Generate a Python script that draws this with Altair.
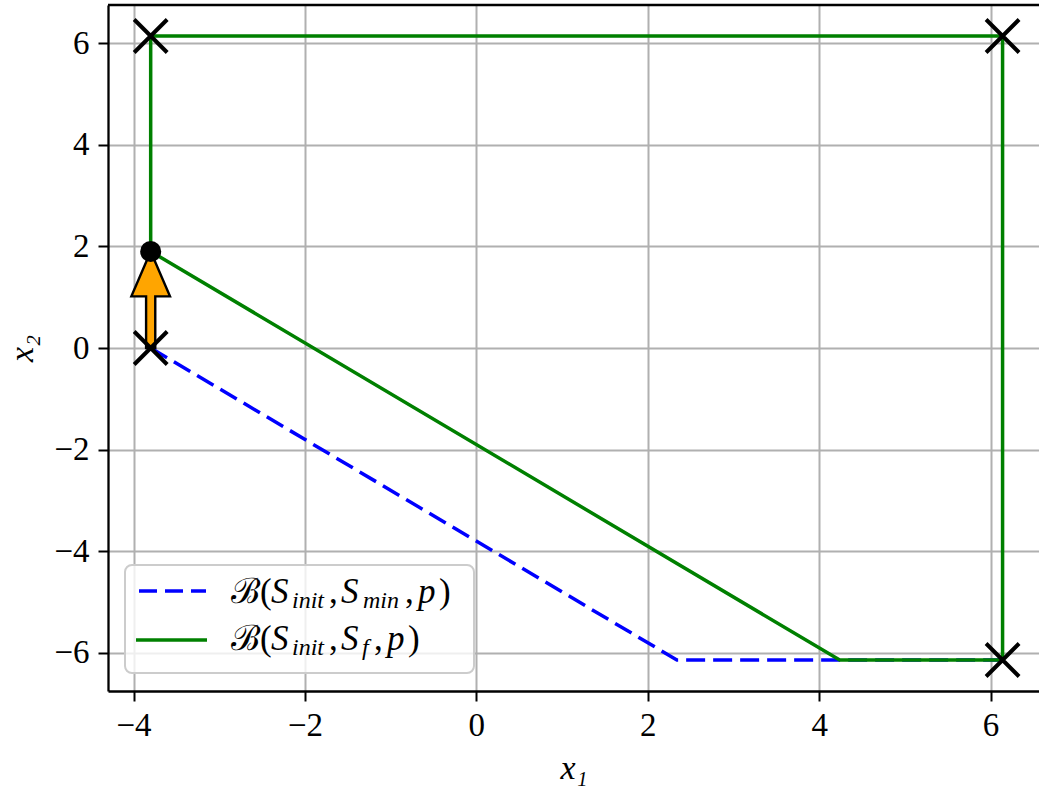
import altair as alt
import pandas as pd

# ---------------- data ----------------
blue_x = [-3.8, 2.34, 6.14]
blue_y = [0.0, -6.14, -6.14]
green_x = [-3.8, 4.24, 6.14, 6.14, -3.8, -3.8]
green_y = [1.9, -6.14, -6.14, 6.14, 6.14, 1.9]
cross_x = [-3.8, 6.14, 6.14, -3.8]
cross_y = [6.14, 6.14, -6.14, 0.0]
dot_x = [-3.8]
dot_y = [1.9]
arrow_x = [-3.8]
arrow_y0 = [0.0]
arrow_y1 = [1.9]
x_ticks = [-4, -2, 0, 2, 4, 6]
y_ticks = [-6, -4, -2, 0, 2, 4, 6]
x_domain = [-4.298, 6.565]
y_domain = [-6.75, 6.75]

# ---------------- layout ----------------
W, H = 931, 686
FONT = "Liberation Serif"

xscale = alt.Scale(domain=x_domain, nice=False, zero=False)
yscale = alt.Scale(domain=y_domain, nice=False, zero=False)

axis_common = dict(
    grid=True, gridColor="#b0b0b0", gridWidth=2,
    domainColor="black", domainWidth=2.3,
    tickColor="black", tickWidth=2, tickSize=10,
    labelFont=FONT, labelFontSize=33, labelColor="black",
    labelFlush=False, labelOverlap=False, format="d",
    titleFont=FONT, titleFontSize=34, titleFontStyle="italic",
    titleFontWeight="normal", titleColor="black",
    titleAlign="center", titleBaseline="middle",
)
xaxis = alt.Axis(values=x_ticks, title="x₁", labelPadding=8,
                 titleX=W / 2, titleY=77, **axis_common)
yaxis = alt.Axis(values=y_ticks, title="x₂", labelPadding=9,
                 titleX=-86, titleY=H / 2, titleAngle=-90, **axis_common)

X = alt.X("x:Q", scale=xscale, axis=xaxis)
Y = alt.Y("y:Q", scale=yscale, axis=yaxis)

blue_df = pd.DataFrame({"x": blue_x, "y": blue_y, "i": range(len(blue_x))})
green_df = pd.DataFrame({"x": green_x, "y": green_y, "i": range(len(green_x))})
cross_df = pd.DataFrame({"x": cross_x, "y": cross_y})
dot_df = pd.DataFrame({"x": dot_x, "y": dot_y})
arrow_df = pd.DataFrame({"x": arrow_x,
                         "y": [(a + b) / 2 for a, b in zip(arrow_y0, arrow_y1)]})

LW = 3.5
blue = alt.Chart(blue_df).mark_line(
    color="#0000ff", strokeWidth=LW, strokeDash=[19, 8]
).encode(x=X, y=Y, order=alt.Order("i:Q"))

green = alt.Chart(green_df).mark_line(
    color="#008000", strokeWidth=LW
).encode(x=X, y=Y, order=alt.Order("i:Q"))

# arrow drawn as a symbol whose length follows the y scale
px_per_unit = H / (y_domain[1] - y_domain[0])
arrow_len_px = (arrow_y1[0] - arrow_y0[0]) * px_per_unit
arrow_path = ("M0,-1L0.40,-0.07L0.095,-0.07L0.095,1L-0.095,1"
              "L-0.095,-0.07L-0.40,-0.07Z")
arrow = alt.Chart(arrow_df).mark_point(
    shape=arrow_path, filled=True, fill="#FFA500", stroke="black",
    strokeWidth=2.4, size=arrow_len_px ** 2, opacity=1, strokeJoin="miter"
).encode(x=X, y=Y)

crosses = alt.Chart(cross_df).mark_point(
    shape="M-1,-1L1,1M-1,1L1,-1", filled=False, stroke="black",
    strokeWidth=4, size=33 ** 2, opacity=1
).encode(x=X, y=Y)

dot = alt.Chart(dot_df).mark_point(
    shape="circle", filled=True, color="black", size=21 ** 2, opacity=1
).encode(x=X, y=Y)

# top frame line
frame_top = alt.Chart(dot_df).mark_rule(color="black", strokeWidth=2.3).encode(
    x=alt.value(0), x2=alt.value(W), y=alt.value(0)
)

# ---------------- legend ----------------
leg_box = alt.Chart(dot_df).mark_rect(
    fill="white", fillOpacity=0.8, stroke="#cccccc", strokeWidth=2,
    cornerRadius=7
).encode(x=alt.value(17), x2=alt.value(366), y=alt.value(560), y2=alt.value(668))

leg_blue = alt.Chart(dot_df).mark_rule(
    color="#0000ff", strokeWidth=LW, strokeDash=[18, 8]
).encode(x=alt.value(31), x2=alt.value(98), y=alt.value(586))
leg_green = alt.Chart(dot_df).mark_rule(
    color="#008000", strokeWidth=LW
).encode(x=alt.value(28), x2=alt.value(99), y=alt.value(635))

MAIN, SUB = 35, 24
B1, S1 = 598, 603   # baselines, line 1
B2, S2 = 645, 650   # baselines, line 2
OX = 108            # page offset of plot area
# (text, page x, baseline y, size, italic)
legend_pieces = [
    ("ℬ", 231, B1, MAIN, False), ("(", 260, B1, MAIN, False),
    ("S", 271, B1, MAIN, True), ("init", 292, S1, SUB, True),
    (",", 329, B1, MAIN, False), ("S", 341, B1, MAIN, True),
    ("min", 363, S1, SUB, True), (",", 405, B1, MAIN, False),
    ("p", 418, B1, MAIN, True), (")", 439, B1, MAIN, False),
    ("ℬ", 231, B2, MAIN, False), ("(", 260, B2, MAIN, False),
    ("S", 271, B2, MAIN, True), ("init", 292, S2, SUB, True),
    (",", 329, B2, MAIN, False), ("S", 341, B2, MAIN, True),
    ("f", 362, S2, SUB, True), (",", 374, B2, MAIN, False),
    ("p", 387, B2, MAIN, True), (")", 408, B2, MAIN, False),
]
leg_texts = []
for t, px, py, fs, it in legend_pieces:
    leg_texts.append(
        alt.Chart(dot_df).mark_text(
            font=FONT, fontSize=fs, fontStyle="italic" if it else "normal",
            align="left", baseline="alphabetic", color="black"
        ).encode(x=alt.value(px - OX), y=alt.value(py), text=alt.value(t))
    )

chart = alt.layer(
    blue, green, arrow, crosses, dot, frame_top,
    leg_box, leg_blue, leg_green, *leg_texts
).properties(
    width=W, height=H,
    autosize=alt.AutoSizeParams(type="none"),
    padding={"left": OX, "top": 5, "right": 0, "bottom": 101},
    background="white",
).configure_view(stroke=None)

chart.save("out.html", embed_options={"renderer": "svg", "actions": False})
